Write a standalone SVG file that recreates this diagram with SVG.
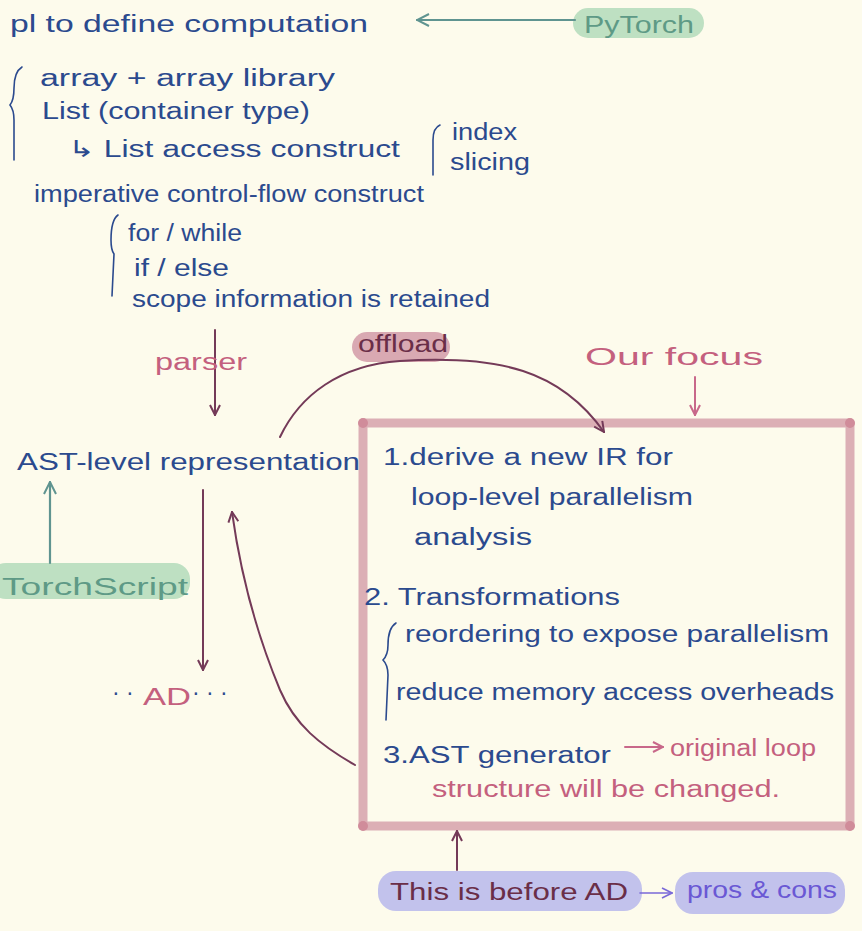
<svg xmlns="http://www.w3.org/2000/svg" width="862" height="931" viewBox="0 0 862 931">
<style>
.t{font-family:"Liberation Sans","DejaVu Sans",sans-serif;font-size:23px;fill:#2B4A8E}
.p{fill:#C4607E}
.g{fill:#5E9A86}
.d{fill:#6A2E48}
.v{fill:#6A58D4}
.br{fill:none;stroke:#2B4A8E;stroke-width:1.6;stroke-linecap:round}
.c{fill:none;stroke:#743A58;stroke-width:2;stroke-linecap:round}
.tl{fill:none;stroke:#5F9490;stroke-width:2.2;stroke-linecap:round}
.pk{fill:none;stroke:#C8688A;stroke-width:2;stroke-linecap:round}
.pu{fill:none;stroke:#7A6AD8;stroke-width:1.6;stroke-linecap:round}
.hg{fill:#BEE0C2}
.hp{fill:#C2C2EC}
.ho{fill:#D9A9B2}
</style>
<defs>
<marker id="ah" viewBox="0 0 12 12" refX="11" refY="6" markerWidth="12" markerHeight="12" markerUnits="userSpaceOnUse" orient="auto"><path d="M1 1 L11 6 L1 11" fill="none" stroke="#743A58" stroke-width="2"/></marker>
<marker id="aht" viewBox="0 0 14 14" refX="13" refY="7" markerWidth="14" markerHeight="14" markerUnits="userSpaceOnUse" orient="auto"><path d="M1 1 L13 7 L1 13" fill="none" stroke="#5F9490" stroke-width="2"/></marker>
<marker id="ahp" viewBox="0 0 12 12" refX="11" refY="6" markerWidth="12" markerHeight="12" markerUnits="userSpaceOnUse" orient="auto"><path d="M1 1 L11 6 L1 11" fill="none" stroke="#C8688A" stroke-width="2"/></marker>
<marker id="ahu" viewBox="0 0 12 12" refX="11" refY="6" markerWidth="12" markerHeight="12" markerUnits="userSpaceOnUse" orient="auto"><path d="M1 1 L11 6 L1 11" fill="none" stroke="#7A6AD8" stroke-width="1.6"/></marker>
</defs>
<rect width="862" height="931" fill="#FDFBEC"/>

<g id="highlights">
<rect class="hg" x="573" y="8" width="131" height="30" rx="15"/>
<rect class="hg" x="-10" y="563" width="200" height="36" rx="16"/>
<rect class="ho" x="352" y="332" width="98" height="30" rx="15"/>
<rect class="hp" x="378" y="871" width="264" height="40" rx="18"/>
<rect class="hp" x="675" y="872" width="170" height="42" rx="18"/>
</g>

<g id="focus-box">
<rect x="363" y="423" width="487" height="403" fill="none" stroke="#DCAFB5" stroke-width="9" stroke-linejoin="round"/>
<circle cx="363" cy="423" r="5" fill="#D08C9A"/>
<circle cx="850" cy="423" r="5" fill="#D08C9A"/>
<circle cx="850" cy="826" r="5" fill="#D08C9A"/>
<circle cx="363" cy="826" r="5" fill="#D08C9A"/>
</g>

<g id="connectors">
<path class="tl" d="M575 20 L417 20" marker-end="url(#aht)"/>
<path class="tl" d="M50 563 L50 482" marker-end="url(#aht)"/>
<path class="c" d="M215 330 L215 415" marker-end="url(#ah)"/>
<path class="c" d="M280 437 C300 395 340 365 400 361 C500 355 560 370 604 432" marker-end="url(#ah)"/>
<path class="pk" d="M695 377 L695 415" marker-end="url(#ahp)"/>
<path class="c" d="M203 490 L203 670" marker-end="url(#ah)"/>
<path class="c" d="M355 765 C320 745 295 725 280 690 C255 630 240 570 232 512" marker-end="url(#ah)"/>
<path class="pk" d="M625 747 L663 747" marker-end="url(#ahp)"/>
<path class="c" d="M457 870 L457 831" marker-end="url(#ah)"/>
<path class="pu" d="M640 893 L672 893" marker-end="url(#ahu)"/>
</g>

<g id="pl">
<text class="t" x="10" y="32" textLength="358" lengthAdjust="spacingAndGlyphs">pl to define computation</text>
</g>
<g id="pytorch"><text class="t g" x="584" y="33" textLength="110" lengthAdjust="spacingAndGlyphs">PyTorch</text></g>

<g id="features">
<path class="br" d="M22 67 Q14 72 14 88 Q14 100 10 105 Q14 110 14 120 L14 160"/>
<text class="t" x="40" y="86" textLength="295" lengthAdjust="spacingAndGlyphs">array + array library</text>
<text class="t" x="42" y="119" textLength="268" lengthAdjust="spacingAndGlyphs">List (container type)</text>
<text class="t" x="68" y="157" textLength="332" lengthAdjust="spacingAndGlyphs">↳ List access construct</text>
<path class="br" d="M440 125 Q433 128 433 140 L433 175"/>
<text class="t" x="452" y="140" textLength="65" lengthAdjust="spacingAndGlyphs">index</text>
<text class="t" x="450" y="170" textLength="80" lengthAdjust="spacingAndGlyphs">slicing</text>
<text class="t" x="34" y="202" textLength="390" lengthAdjust="spacingAndGlyphs">imperative control-flow construct</text>
<path class="br" d="M118 215 Q111 220 111 240 Q111 250 114 254 L112 296"/>
<text class="t" x="128" y="241" textLength="114" lengthAdjust="spacingAndGlyphs">for / while</text>
<text class="t" x="134" y="276" textLength="95" lengthAdjust="spacingAndGlyphs">if / else</text>
<text class="t" x="132" y="307" textLength="358" lengthAdjust="spacingAndGlyphs">scope information is retained</text>
</g>

<g id="parser"><text class="t p" x="155" y="370" textLength="92" lengthAdjust="spacingAndGlyphs">parser</text></g>
<g id="offload"><text class="t d" x="358" y="352" textLength="90" lengthAdjust="spacingAndGlyphs">offload</text></g>
<g id="our-focus"><text class="t p" x="585" y="365" textLength="178" lengthAdjust="spacingAndGlyphs">Our focus</text></g>

<g id="ast"><text class="t" x="17" y="470" textLength="343" lengthAdjust="spacingAndGlyphs">AST-level representation</text></g>
<g id="torchscript"><text class="t g" x="2" y="595" textLength="186" lengthAdjust="spacingAndGlyphs">TorchScript</text></g>

<g id="ad">
<text class="t" x="112" y="700">·  ·</text>
<text class="t p" x="143" y="705" textLength="48" lengthAdjust="spacingAndGlyphs">AD</text>
<text class="t" x="192" y="700">·   ·  ·</text>
</g>

<g id="steps">
<text class="t" x="383" y="465" textLength="290" lengthAdjust="spacingAndGlyphs">1.derive a new IR for</text>
<text class="t" x="411" y="505" textLength="282" lengthAdjust="spacingAndGlyphs">loop-level parallelism</text>
<text class="t" x="414" y="545" textLength="118" lengthAdjust="spacingAndGlyphs">analysis</text>
<text class="t" x="364" y="605" textLength="256" lengthAdjust="spacingAndGlyphs">2.  Transformations</text>
<path class="br" d="M396 623 Q388 628 388 645 Q388 655 383 660 Q388 665 388 675 L386 720"/>
<text class="t" x="405" y="642" textLength="424" lengthAdjust="spacingAndGlyphs">reordering to expose parallelism</text>
<text class="t" x="396" y="700" textLength="438" lengthAdjust="spacingAndGlyphs">reduce memory access overheads</text>
<text class="t" x="383" y="763" textLength="228" lengthAdjust="spacingAndGlyphs">3.AST  generator</text>
<text class="t p" x="670" y="756" textLength="146" lengthAdjust="spacingAndGlyphs">original loop</text>
<text class="t p" x="432" y="797" textLength="348" lengthAdjust="spacingAndGlyphs">structure will be changed.</text>
</g>

<g id="before-ad"><text class="t d" x="390" y="900" textLength="238" lengthAdjust="spacingAndGlyphs">This is before AD</text></g>
<g id="pros-cons"><text class="t v" x="687" y="898" textLength="150" lengthAdjust="spacingAndGlyphs">pros &amp; cons</text></g>
</svg>
